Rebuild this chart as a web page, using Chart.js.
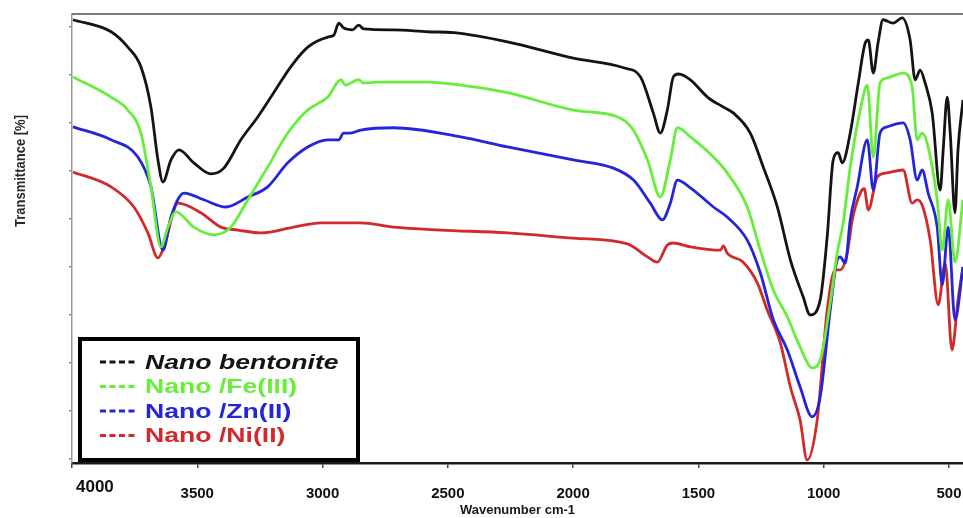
<!DOCTYPE html>
<html>
<head>
<meta charset="utf-8">
<script src="https://cdn.jsdelivr.net/npm/chart.js@4/dist/chart.umd.min.js"></script>
<style>
  html, body { margin: 0; padding: 0; background: #fff; }
  #wrap { width: 963px; height: 518px; }
</style>
</head>
<body>
<div id="wrap"><canvas id="ftir" width="963" height="518"></canvas></div>
<script>
// FTIR spectra: wavenumber (cm-1) and transmittance (arbitrary % offset scale)
const seriesLabels = ['Nano bentonite', 'Nano /Fe(III)', 'Nano /Zn(II)', 'Nano /Ni(II)'];

const bentoniteWn = [3996,3844,3777,3725,3685,3657,3637,3605,3573,3514,3446,3394,3326,3258,3195,3127,3059,2979,2955,2935,2916,2880,2856,2836,2716,2581,2477,2262,1999,1799,1731,1680,1652,1624,1600,1580,1532,1464,1400,1361,1293,1241,1185,1133,1082,1054,1014,986,962,942,926,894,862,834,822,802,783,763,723,687,655,635,615,595,567,535,523,507,495,476,464,444];
const bentoniteT  = [91.5,89.0,85.8,81.7,73.3,62.3,57.7,62.3,64.4,61.7,59.4,60.6,66.5,71.3,76.3,81.7,85.8,87.9,88.3,90.8,89.8,89.4,90.4,89.6,89.4,89.0,88.8,86.9,83.5,81.5,79.6,72.1,67.9,72.7,79.6,80.2,79.0,75.4,73.3,72.1,67.9,60.8,52.5,41.5,33.8,30.0,33.1,46.3,62.3,63.8,61.7,67.9,78.3,86.7,87.3,80.4,86.7,91.5,90.8,91.9,87.3,79.0,81.0,78.3,72.1,56.0,64.4,75.4,67.9,51.3,64.4,74.8];

const feWn = [3996,3844,3777,3725,3685,3645,3617,3585,3514,3434,3366,3298,3219,3139,3059,2979,2927,2908,2856,2836,2780,2581,2449,2262,1999,1811,1759,1703,1652,1612,1584,1532,1440,1385,1305,1253,1201,1145,1094,1046,1014,974,946,922,894,854,826,802,775,747,683,647,627,607,587,547,527,503,476,444];
const feT  = [79.6,75.4,72.7,67.9,56.7,44.2,48.3,51.5,48.3,46.7,48.3,54.0,60.8,67.9,72.7,75.4,79.0,77.9,79.0,78.3,78.5,78.5,77.9,76.3,72.7,71.0,68.5,62.3,54.6,62.3,69.0,67.1,62.9,59.6,52.5,43.5,35.2,29.6,23.3,19.0,20.6,32.5,42.9,49.2,60.8,72.7,77.9,62.9,78.3,79.4,80.4,77.5,66.5,67.9,65.8,54.0,43.5,54.0,41.0,54.0];

const znWn = [3996,3844,3737,3685,3637,3605,3553,3474,3386,3298,3219,3139,3059,2979,2935,2916,2888,2848,2716,2449,2262,1999,1839,1759,1692,1644,1612,1584,1532,1440,1385,1305,1253,1201,1145,1094,1046,1014,974,946,934,914,894,866,826,802,775,747,683,655,627,607,583,547,527,503,476,444];
const znT  = [69.2,66.5,62.9,56.7,43.5,50.4,55.4,54.0,52.5,54.6,56.7,61.7,65.0,66.5,66.5,67.9,67.9,68.5,69.0,67.1,65.0,62.3,60.6,58.1,53.3,49.8,53.3,58.1,56.5,52.5,50.4,45.6,38.8,29.0,22.7,15.0,8.8,12.9,31.0,41.5,42.1,40.8,49.8,56.7,66.5,56.0,67.9,69.2,70.0,66.5,58.1,60.2,55.4,48.3,36.3,48.3,29.0,40.0];

const niWn = [3996,3844,3753,3697,3657,3633,3577,3486,3406,3338,3246,3115,3007,2848,2716,2529,2262,1999,1783,1703,1664,1624,1600,1532,1412,1400,1385,1321,1265,1225,1173,1133,1094,1066,1026,986,954,934,906,886,854,838,822,786,747,683,647,627,607,575,543,515,488,464,444];
const niT  = [59.8,56.7,52.5,47.1,41.9,44.2,53.3,51.3,48.3,47.7,47.1,48.3,49.2,49.2,48.3,47.7,47.1,46.0,44.8,42.1,41.0,44.6,45.0,44.2,43.5,44.4,42.9,41.0,36.7,31.0,24.2,15.0,8.1,-0.2,8.1,31.0,39.4,39.4,42.9,49.8,55.4,56.3,51.9,58.8,59.6,60.2,53.3,54.0,52.9,45.6,32.1,40.8,22.7,33.1,40.0];

const xTickValues = [4000, 3500, 3000, 2500, 2000, 1500, 1000, 500];
const yTickValues = [0, 10, 20, 30, 40, 50, 60, 70, 80, 90];

const seriesColors = ['#141414', '#66ee3a', '#2424d8', '#d22a2a'];

function toPoints(wn, t) {
  return wn.map((w, i) => ({ x: w, y: t[i] }));
}

const seriesData = [
  toPoints(bentoniteWn, bentoniteT),
  toPoints(feWn, feT),
  toPoints(znWn, znT),
  toPoints(niWn, niT)
];

const datasets = seriesLabels.map((label, i) => ({
  label,
  data: seriesData[i],
  borderColor: seriesColors[i],
  backgroundColor: seriesColors[i],
  borderWidth: 2.8,
  pointRadius: 0,
  cubicInterpolationMode: 'monotone',
  fill: false
}));

// Frame, y-axis title, "4000" corner label and the boxed legend
const decorations = {
  id: 'decorations',
  afterDraw(chart) {
    const { ctx, chartArea: a, scales } = chart;
    ctx.save();

    // top frame line
    ctx.strokeStyle = '#7a7a7a';
    ctx.lineWidth = 2;
    ctx.beginPath();
    ctx.moveTo(a.left, a.top);
    ctx.lineTo(a.right, a.top);
    ctx.stroke();

    // y-axis title (rotated, condensed)
    ctx.save();
    ctx.translate(21, 171);
    ctx.rotate(-Math.PI / 2);
    ctx.font = 'bold 15px "Liberation Sans", Arial, sans-serif';
    const ytxt = 'Transmittance [%]';
    const yw = ctx.measureText(ytxt).width;
    ctx.scale(112 / yw, 1);
    ctx.fillStyle = '#2a2a2a';
    ctx.textAlign = 'center';
    ctx.textBaseline = 'middle';
    ctx.fillText(ytxt, 0, 0);
    ctx.restore();

    // first x tick label, set at the axis corner
    const x0 = scales.x.getPixelForValue(4000);
    ctx.font = 'bold 17px "Liberation Sans", Arial, sans-serif';
    ctx.fillStyle = '#111';
    ctx.textAlign = 'left';
    ctx.textBaseline = 'middle';
    ctx.fillText('4000', x0 + 4, 487);

    // legend box
    const bx = 78, by = 337, bw = 282, bh = 125;
    ctx.fillStyle = '#fff';
    ctx.fillRect(bx, by, bw, bh);
    ctx.strokeStyle = '#000';
    ctx.lineWidth = 4;
    ctx.strokeRect(bx + 2, by + 2, bw - 4, bh - 4);

    chart.data.datasets.forEach((ds, i) => {
      const cy = 362 + i * 24.5;
      ctx.strokeStyle = ds.borderColor;
      ctx.lineWidth = 3;
      ctx.setLineDash([6, 3.5]);
      ctx.beginPath();
      ctx.moveTo(100, cy);
      ctx.lineTo(138, cy);
      ctx.stroke();
      ctx.setLineDash([]);

      ctx.save();
      ctx.translate(145, cy);
      ctx.scale(1.33, 1);
      ctx.font = (i === 0 ? 'italic ' : '') + 'bold 20px "Liberation Sans", Arial, sans-serif';
      ctx.fillStyle = ds.borderColor;
      ctx.textAlign = 'left';
      ctx.textBaseline = 'middle';
      ctx.fillText(ds.label, 0, 1);
      ctx.restore();
    });

    ctx.restore();
  }
};

new Chart(document.getElementById('ftir'), {
  type: 'line',
  data: { datasets },
  plugins: [decorations],
  options: {
    responsive: false,
    devicePixelRatio: 1,
    animation: false,
    layout: { padding: { top: 14, left: 0, right: 0, bottom: 0 } },
    plugins: {
      legend: { display: false },
      tooltip: { enabled: false }
    },
    scales: {
      x: {
        type: 'linear',
        reverse: true,
        min: 444,
        max: 4000,
        afterBuildTicks: s => { s.ticks = xTickValues.map(v => ({ value: v })); },
        afterFit: s => { s.height = 55; s.paddingLeft = 0; s.paddingRight = 0; },
        ticks: {
          autoSkip: false,
          maxRotation: 0,
          padding: 17,
          color: '#111',
          font: { family: '"Liberation Sans", Arial, sans-serif', size: 15, weight: 'bold' },
          callback: v => (v === 4000 ? '' : String(v))
        },
        grid: { drawOnChartArea: false, drawTicks: true, tickLength: 5, color: '#444', lineWidth: 1.5 },
        border: { color: '#1a1a1a', width: 2.5 },
        title: {
          display: true,
          text: 'Wavenumber cm-1',
          color: '#1a1a1a',
          font: { family: '"Liberation Sans", Arial, sans-serif', size: 13, weight: 'bold' },
          padding: { top: 0, bottom: 0 }
        }
      },
      y: {
        min: -0.83,
        max: 92.7,
        afterBuildTicks: s => { s.ticks = yTickValues.map(v => ({ value: v })); },
        afterFit: s => { s.width = 72; s.paddingTop = 0; s.paddingBottom = 0; },
        ticks: { display: false },
        grid: { drawOnChartArea: false, drawTicks: true, tickLength: 3, color: '#888', lineWidth: 1.5 },
        border: { color: '#9a9a9a', width: 1.5 }
      }
    }
  }
});
</script>
</body>
</html>
